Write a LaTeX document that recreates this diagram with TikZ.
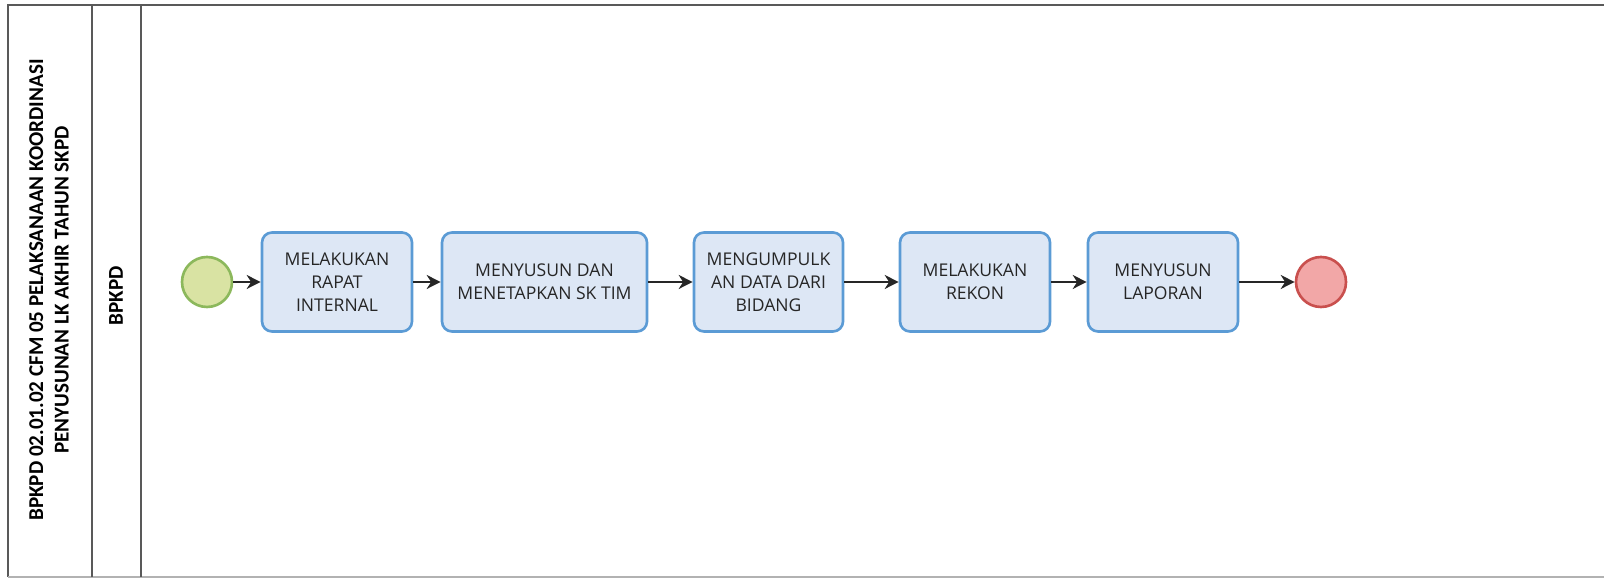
\documentclass[tikz,border=0pt]{standalone}
\usepackage{fontspec}
\setmainfont{Open Sans}
\newfontfamily\lanefont{Carlito}
\usetikzlibrary{arrows.meta}
\definecolor{taskfill}{HTML}{DDE7F5}
\definecolor{taskline}{HTML}{5B9BD5}
\definecolor{startfill}{HTML}{D9E3A3}
\definecolor{startline}{HTML}{8CB85C}
\definecolor{endfill}{HTML}{F2A7A7}
\definecolor{endline}{HTML}{C9504E}
\tikzset{tasknode/.style={rectangle,rounded corners=0.2cm,draw=taskline,line width=1.5pt,fill=taskfill,
    minimum height=1.98cm,align=center,font=\fontsize{10}{13}\selectfont,text=black!85},
  startnode/.style={circle,draw=startline,fill=startfill,line width=1.5pt,minimum size=1cm,inner sep=0pt},
  endnode/.style={circle,draw=endline,fill=endfill,line width=1.5pt,minimum size=1cm,inner sep=0pt},
  flow/.style={-{Stealth[length=8pt,width=8pt]},line width=1pt,black!85},
  lanelabel/.style={rotate=90,align=center,font=\lanefont\bfseries\fontsize{12}{14.5}\selectfont}}

\begin{document}
\begin{tikzpicture}

\useasboundingbox (0,0) rectangle (32.08,11.58);

  % lane

  \draw [gray!70!black, line width=0.8pt] (0.16,0.04) -- (0.16,11.48) -- (32.08,11.48);
  \draw [gray!60, line width=0.6pt] (0.16,0.04) -- (32.08,0.04);
  \draw [gray!70!black, line width=0.8pt] (1.84,0.04) -- (1.84,11.48);
  \draw [gray!70!black, line width=0.8pt] (2.82,0.04) -- (2.82,11.48);
  \node [style = lanelabel] (pool) at (0.98,5.78) {BPKPD 02.01.02 CFM 05 PELAKSANAAN KOORDINASI\\PENYUSUNAN LK AKHIR TAHUN SKPD};
  \node [style = lanelabel] (lane) at (2.32,5.66) {BPKPD};

  % nodes

  \node [style = startnode] (start) at (4.14,5.94) {};
  \node [style = tasknode, minimum width=3cm] (rapat) at (6.74,5.94) {MELAKUKAN\\RAPAT\\INTERNAL};
  \node [style = tasknode, minimum width=4.1cm] (sktim) at (10.89,5.94) {MENYUSUN DAN\\MENETAPKAN SK TIM};
  \node [style = tasknode, minimum width=2.98cm] (data) at (15.37,5.94) {MENGUMPULK\\AN DATA DARI\\BIDANG};
  \node [style = tasknode, minimum width=3cm] (rekon) at (19.5,5.94) {MELAKUKAN\\REKON};
  \node [style = tasknode, minimum width=3cm] (laporan) at (23.26,5.94) {MENYUSUN\\LAPORAN};
  \node [style = endnode] (end) at (26.42,5.94) {};

  % edges
  \draw [style = flow] (start) to (rapat);
  \draw [style = flow] (rapat) to (sktim);
  \draw [style = flow] (sktim) to (data);
  \draw [style = flow] (data) to (rekon);
  \draw [style = flow] (rekon) to (laporan);
  \draw [style = flow] (laporan) to (end);

\end{tikzpicture}
\end{document}
